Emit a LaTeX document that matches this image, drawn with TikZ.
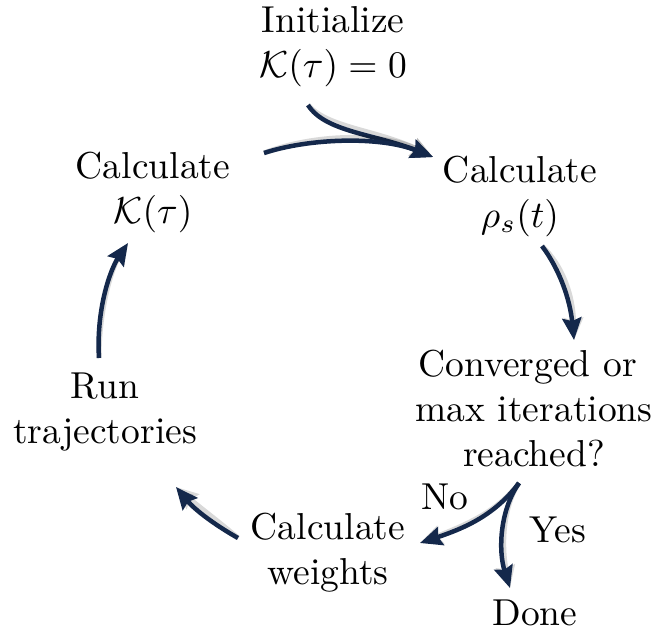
\RequirePackage{fix-cm}
\documentclass[tikz,border=0pt]{standalone}
\usetikzlibrary{arrows.meta}
\definecolor{navy}{RGB}{20,40,75}
\tikzset{
  lbl/.style={align=center, inner sep=0pt, font=\fontsize{10}{12}\selectfont, scale=3.75, transform shape},
  conn/.style={line width=4.5pt, draw=navy, -{Stealth[length=22pt,width=19pt,inset=3pt]}},
  shad/.style={line width=5pt, draw=black, opacity=0.15, -{Stealth[length=22pt,width=19pt,inset=3pt]}, shift={(3pt,4pt)}}
}
\newcommand{\arr}[1]{\draw[shad] #1; \draw[conn] #1;}
\begin{document}
\begin{tikzpicture}[x=1pt,y=-1pt]
\useasboundingbox (0,0) rectangle (668,633);
\node[lbl] (init) at (333,47) {Initialize\\$\mathcal{K}(\tau)=0$};
\node[lbl] (rho) at (520,196) {Calculate\\$\rho_s(t)$};
\node[lbl] (conv) at (534,408) {Converged or\hspace*{0.33em}\\max iterations\\reached?};
\node[lbl] (wts) at (328,553) {Calculate\\weights};
\node[lbl] (done) at (535,613) {Done};
\node[lbl] (run) at (105,412) {Run\\trajectories};
\node[lbl] (calck) at (153,192) {Calculate\\$\mathcal{K}(\tau)$};
\node[lbl] (no) at (445,497) {No};
\node[lbl] (yes) at (558,530) {Yes};

\coordinate (initS) at (308,105);
\coordinate (calckE) at (264,153);
\coordinate (rhoW) at (433,157);
\coordinate (rhoS) at (542,246);
\coordinate (convN) at (574,340);
\coordinate (convS) at (519,483);
\coordinate (wtsE) at (420,543);
\coordinate (doneN) at (510,588);
\coordinate (wtsW) at (238,538);
\coordinate (runE) at (176,487);
\coordinate (runN) at (99,358);
\coordinate (calckS) at (128,243);

\arr{(initS) .. controls (325,132) and (375,134) .. (rhoW)}
\arr{(calckE) .. controls (310,138) and (380,136) .. (rhoW)}
\arr{(rhoS) .. controls (560,270) and (570,300) .. (convN)}
\arr{(convS) .. controls (495,515) and (465,528) .. (wtsE)}
\arr{(convS) .. controls (500,510) and (498,550) .. (doneN)}
\arr{(wtsW) .. controls (215,525) and (195,510) .. (runE)}
\arr{(runN) .. controls (96,310) and (110,270) .. (calckS)}
\end{tikzpicture}
\end{document}
